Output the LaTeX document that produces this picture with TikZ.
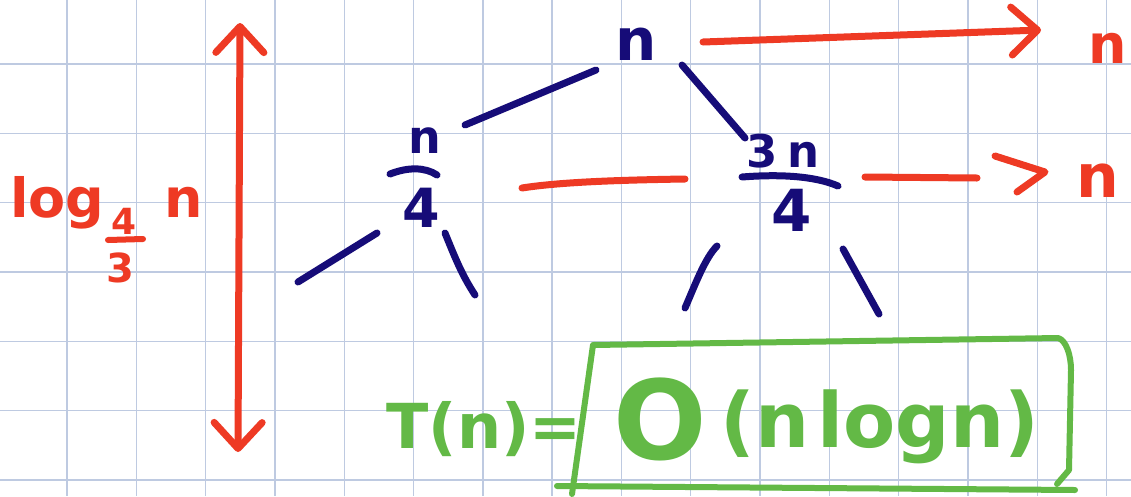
\documentclass[tikz,border=0pt]{standalone}
\usepackage{fontspec}
\setmainfont{DejaVu Sans}
\usetikzlibrary{arrows.meta}
\definecolor{ink}{RGB}{22,12,120}
\definecolor{pen}{RGB}{238,58,36}
\definecolor{leaf}{RGB}{99,185,70}
\definecolor{gridc}{RGB}{190,202,225}
\newcommand\hsz[1]{\fontsize{#1}{#1}\selectfont\bfseries}
\tikzset{
  hw/.style={inner sep=0pt, outer sep=0pt},
  navytext/.style={hw, text=ink},
  redtext/.style={hw, text=pen},
  greentext/.style={hw, text=leaf},
  stroke/.style={line width=7pt, line cap=round, line join=round},
  navystroke/.style={stroke, draw=ink},
  redstroke/.style={stroke, draw=pen},
  greenstroke/.style={stroke, line width=6pt, draw=leaf},
  gridline/.style={draw=gridc, line width=1.4pt},
  barb/.tip={Straight Barb[round,length=26pt,width=48pt]}
}
\begin{document}
\begin{tikzpicture}[x=1pt,y=-1pt]
\useasboundingbox (0,0) rectangle (1131,496);
\fill[white] (0,0) rectangle (1131,496);
% grid paper
\foreach \k in {0,...,15} \draw[gridline] ({67+69.3*\k},0) -- ({67+69.3*\k},496);
\foreach \k in {0,...,6} \draw[gridline] (0,{64+69.3*\k}) -- (1131,{64+69.3*\k});

% tree nodes
\node[navytext, font=\hsz{58}] (top) at (636,44) {n};
\node[navytext, font=\hsz{46}] (lnum) at (425,141) {n};
\node[navytext, font=\hsz{54}] (lden) at (421,208) {4};
\draw[navystroke] (390,174) .. controls (408,167) and (425,167) .. (437,175);
\node[navytext, font=\hsz{45}, anchor=base] (rnum) at (783,167) {3\hspace{9pt}n};
\node[navytext, font=\hsz{58}] (rden) at (792,210) {4};
\draw[navystroke] (742,177) .. controls (780,174) and (815,176) .. (838,186);

% free ends of the lowest branches
\coordinate (ll) at (298,282);
\coordinate (lr) at (475,295);
\coordinate (rl) at (685,308);
\coordinate (rr) at (879,314);

% tree edges
\draw[navystroke] ([shift={(-40,26)}]top.center) -- ([shift={(40,-16)}]lnum.center);
\draw[navystroke] ([shift={(46,21)}]top.center) -- ([shift={(-38,-29)}]rnum.base);
\draw[navystroke] ([shift={(-44,25)}]lden.center) -- (ll);
\draw[navystroke] ([shift={(24,25)}]lden.center) .. controls (456,260) and (462,275) .. (lr);
\draw[navystroke] ([shift={(-75,36)}]rden.center) .. controls (705,258) and (695,285) .. (rl);
\draw[navystroke] ([shift={(51,39)}]rden.center) -- (rr);

% level sums
\node[redtext, font=\hsz{54}] (rn1) at (1108,48) {n};
\node[redtext, font=\hsz{60}] (rn2) at (1098,181) {n};
\draw[redstroke, -{barb}] ([shift={(67,-2)}]top.center) -- ([shift={(-67,-18)}]rn1.center);
\draw[redstroke] ([shift={(101,-20)}]lden.center) .. controls (560,182) and (620,180) .. ([shift={(-107,-31)}]rden.center);
\draw[redstroke] ([shift={(82,10)}]rnum.base) -- ([shift={(-121,-3)}]rn2.center);
\draw[redstroke] ([shift={(-103,-25)}]rn2.center) -- ([shift={(-53,-9)}]rn2.center) -- ([shift={(-81,11)}]rn2.center);

% height arrow
\coordinate (vtop) at (240,23);
\coordinate (vbot) at (238,452);
\draw[redstroke, {barb}-{barb}] (vtop) -- (vbot);

% log label
\node[redtext, font=\hsz{54}, anchor=base west] (log) at (10,217) {log};
\node[redtext, font=\hsz{36}] (sub4) at (124,221) {4};
\node[redtext, font=\hsz{40}] (sub3) at (120,268) {3};
\draw[redstroke, line width=6pt] (108,240) -- (143,239);
\node[redtext, font=\hsz{54}, anchor=base] (logn) at (184,217) {n};

% result
\node[greentext, font=\hsz{62}, anchor=base] (tn) at (484,448) {T(n)=};
\node[greentext, font=\hsz{76}, anchor=base] (res) at (826,447) {\raisebox{-12pt}{\hsz{110}O}\hspace{14pt}(n\hspace{8pt}logn)};
\draw[greenstroke] (572,494) -- (593,345) -- (1058,338) .. controls (1066,340) and (1071,355) .. (1071,370) -- (1069,470) -- (1057,484);
\draw[greenstroke] (557,486) -- (1075,490);
\end{tikzpicture}
\end{document}
